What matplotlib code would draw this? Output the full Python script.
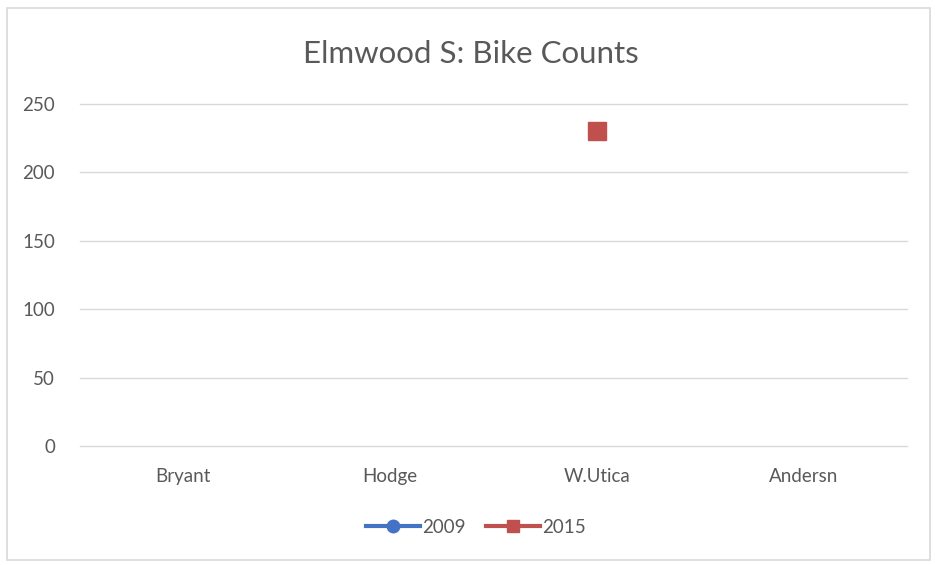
import numpy as np
import matplotlib.pyplot as plt
from matplotlib.patches import Rectangle
from matplotlib.lines import Line2D

# data
locations = ["Bryant", "Hodge", "W.Utica", "Andersn"]
counts_2009 = [np.nan, np.nan, np.nan, np.nan]
counts_2015 = [np.nan, np.nan, 230, np.nan]

plt.rcParams['font.family'] = ['Lato', 'DejaVu Sans']
grey = "#595959"
blue, red = "#4472c4", "#c0504d"

fig = plt.figure(figsize=(9.35, 5.65), dpi=100)
ax = fig.add_axes([0.0856, 0.2106, 0.8845, 0.6053])

x = np.arange(len(locations))
ax.plot(x, counts_2009, color=blue, marker="o", markersize=10, linewidth=2.8)
ax.plot(x, counts_2015, color=red, marker="s", markersize=13, linewidth=2.8)

ax.set_xlim(-0.5, len(locations) - 0.5)
ax.set_ylim(0, 250)
ax.set_yticks(range(0, 251, 50))
ax.set_xticks(x)
ax.set_xticklabels(locations)
ax.tick_params(axis="both", length=0, labelsize=13.5, colors=grey)
ax.tick_params(axis="x", pad=16)
ax.tick_params(axis="y", pad=18)
ax.grid(axis="y", color="#d9d9d9", linewidth=1)
for gl in ax.get_ygridlines():
    gl.set_clip_on(False)
ax.set_axisbelow(True)
for s in ax.spines.values():
    s.set_visible(False)

fig.text(0.504, 0.905, "Elmwood S: Bike Counts", ha="center", va="center", fontsize=22.5, color=grey)

handles = [Line2D([], [], color=blue, marker="o", markersize=9, linewidth=3),
           Line2D([], [], color=red, marker="s", markersize=9, linewidth=3)]
leg = fig.legend(handles, ["2009", "2015"], loc="center", bbox_to_anchor=(0.509, 0.067), ncol=2,
                 frameon=False, fontsize=13.5, handlelength=2.9, columnspacing=1.1, handletextpad=0.1)
for t in leg.get_texts():
    t.set_color(grey)

# outer border
fig.patches.append(Rectangle((0.0075, 0.009), 0.987, 0.977, transform=fig.transFigure,
                             fill=False, edgecolor="#d9d9d9", linewidth=1.2))

fig.savefig("out.png", dpi=100)
